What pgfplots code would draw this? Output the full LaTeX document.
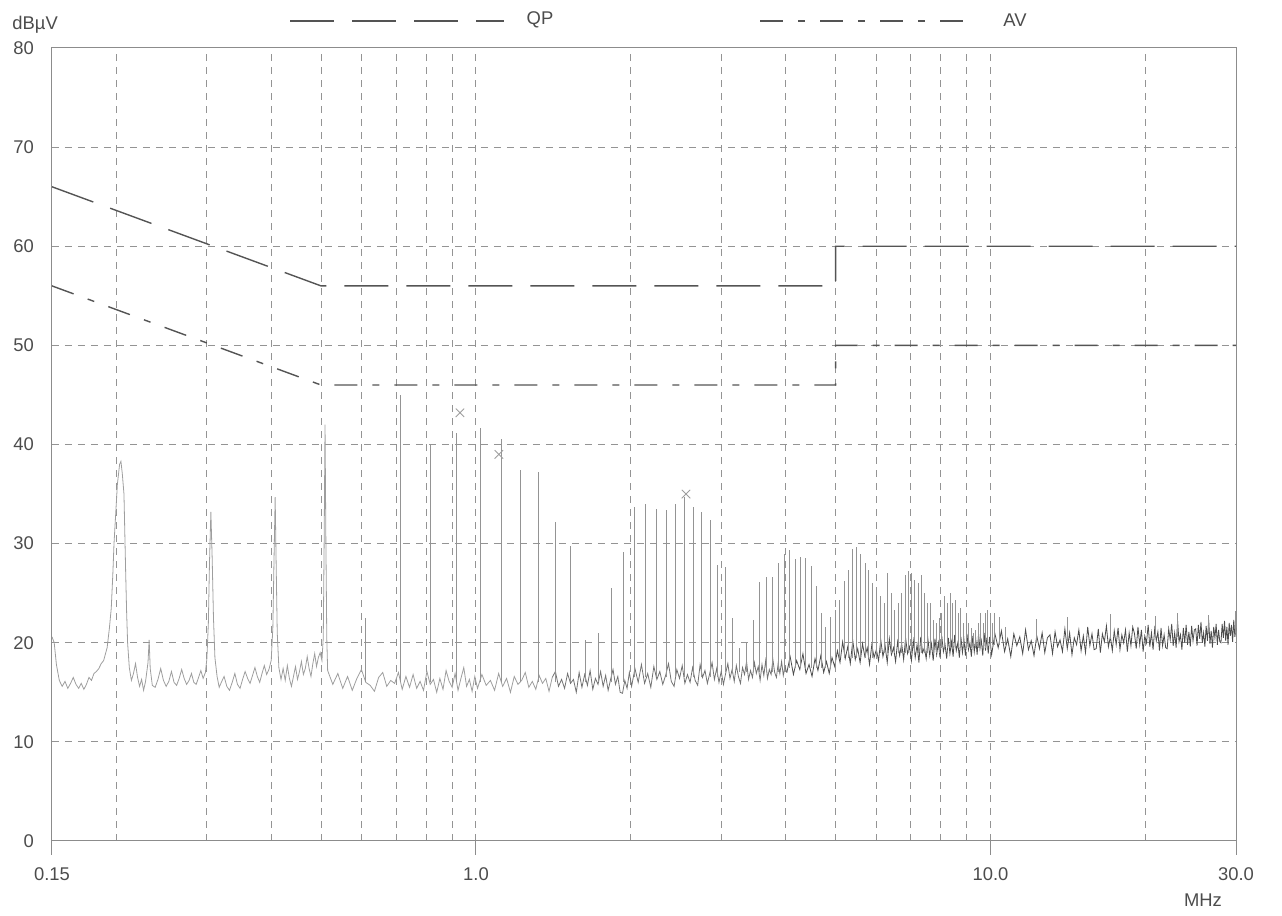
\documentclass[border=0pt]{standalone}
\usepackage{fontspec}
\setmainfont{Liberation Sans}
\usepackage{pgfplots}
\pgfplotsset{compat=1.18}

\definecolor{gridc}{gray}{0.58}
\definecolor{framec}{gray}{0.55}
\definecolor{limc}{gray}{0.33}
\definecolor{txtc}{gray}{0.3}
\definecolor{trlight}{gray}{0.62}
\definecolor{trmid}{gray}{0.45}
\definecolor{trdark}{gray}{0.3}
\definecolor{spk}{gray}{0.58}
\newcommand\lab{\fontsize{9.2}{11}\selectfont}

\begin{document}
\begin{tikzpicture}
\useasboundingbox (-26pt,-37.5pt) rectangle (615pt,420.5pt);
\begin{axis}[
    scale only axis,
    width=592pt, height=396.5pt,
    xmode=log,
    xmin=0.15, xmax=30, ymin=0, ymax=80,
    xtick={0.15,1,10,30},
    xticklabels={0.15,1.0,10.0,30.0},
    minor xtick={0.2,0.3,0.4,0.5,0.6,0.7,0.8,0.9,2,3,4,5,6,7,8,9,20},
    ytick={0,10,20,30,40,50,60,70,80},
    yticklabels={0,10,20,30,40,50,60,70,80},
    grid=both,
    major grid style={gridc, line width=0.5pt, dash pattern=on 3.5pt off 3pt},
    minor grid style={gridc, line width=0.5pt, dash pattern=on 3.5pt off 3pt},
    axis line style={framec, line width=0.5pt},
    tick align=outside,
    xtick pos=bottom, ytick pos=left,
    major tick length=7pt, minor tick length=0pt,
    xtick style={framec, line width=0.5pt},
    ytick style={draw=none},
    ticklabel style={font=\lab, text=txtc},
    xticklabel style={yshift=-2.7pt},
    yticklabel style={xshift=1.5pt},
    unbounded coords=jump,
]
% limit lines
\addplot[limc, line width=0.7pt, dash pattern=on 22pt off 9pt]
  coordinates {(0.15,66)(0.5,56)(5,56)(5,60)(30,60)};
\addplot[limc, line width=0.7pt, dash pattern=on 11.5pt off 7.5pt on 3.5pt off 7.5pt]
  coordinates {(0.15,56)(0.5,46)(5,46)(5,50)(30,50)};

% trace, low frequencies
\addplot[trlight, line width=0.4pt] coordinates {
(0.150,20.6)(0.1515,20.0)(0.153,17.8)(0.155,16.2)(0.157,15.6)(0.159,16.1)(0.161,15.4)(0.163,15.9)
(0.165,16.5)(0.167,15.8)(0.169,15.4)(0.171,15.9)(0.173,15.3)(0.175,15.8)(0.177,16.5)(0.179,16.2)
(0.181,16.9)(0.183,17.1)(0.185,17.4)(0.187,17.9)(0.189,18.2)(0.192,19.5)(0.194,21.5)(0.1956,23.5)
(0.197,27.0)(0.198,30.0)(0.200,34.0)(0.201,36.0)(0.203,38.0)(0.2042,38.3)(0.2055,37.0)(0.207,35.0)
(0.2078,31.0)(0.2086,27.0)(0.2095,23.0)(0.2104,20.0)(0.212,17.5)(0.214,16.2)(0.216,16.9)(0.218,17.9)
(0.220,16.5)(0.222,15.6)(0.224,16.3)(0.226,15.2)(0.228,16.1)(0.2305,18.0)(0.2317,20.3)(0.2328,17.4)
(0.235,15.7)(0.238,15.5)(0.241,16.3)(0.244,17.4)(0.247,16.2)(0.250,15.6)(0.253,16.1)(0.256,17.1)
(0.259,16.0)(0.262,15.7)(0.265,16.4)(0.268,17.3)(0.271,16.4)(0.274,15.8)(0.277,16.2)(0.280,16.9)
(0.283,16.0)(0.286,15.8)(0.289,16.5)(0.292,17.2)(0.295,16.4)(0.298,17.0)(0.300,18.4)(0.302,22.0)
(0.3035,28.0)(0.3054,33.2)(0.3072,28.5)(0.309,22.5)(0.311,18.5)(0.314,16.6)(0.317,15.5)(0.320,16.0)
(0.324,16.6)(0.328,15.6)(0.332,15.2)(0.336,16.0)(0.340,16.9)(0.344,15.8)(0.348,15.4)(0.352,16.3)
(0.356,17.1)(0.360,16.4)(0.364,15.9)(0.368,16.7)(0.372,17.5)(0.376,16.6)(0.380,16.0)(0.384,16.9)
(0.388,17.7)(0.392,16.8)(0.396,17.3)(0.400,18.2)(0.403,21.5)(0.405,28.0)(0.4072,34.7)(0.409,28.0)
(0.411,21.0)(0.414,17.5)(0.418,16.3)(0.422,17.4)(0.426,16.2)(0.430,17.7)(0.434,16.4)(0.438,15.6)
(0.442,16.6)(0.446,17.6)(0.450,16.3)(0.454,17.1)(0.458,18.1)(0.462,16.8)(0.466,17.4)(0.470,18.6)
(0.474,17.4)(0.478,16.6)(0.482,17.9)(0.486,18.9)(0.490,17.6)(0.494,18.5)(0.498,19.0)(0.502,18.2)
(0.505,20.5)(0.507,30.0)(0.509,42.0)(0.511,30.0)(0.513,20.5)(0.515,17.2)(0.527,15.8)(0.539,16.9)
(0.551,15.4)(0.563,16.6)(0.575,15.2)(0.587,16.4)(0.599,17.3)(0.611,16.0)(0.623,15.7)(0.635,15.1)
(0.647,16.5)(0.659,17.0)(0.671,15.6)(0.683,16.2)(0.695,15.9)(0.707,17.0)(0.719,15.3)(0.731,16.6)
(0.743,15.5)(0.755,16.8)(0.767,15.4)(0.779,16.1)(0.791,15.2)(0.803,17.1)(0.815,15.8)(0.827,16.3)
(0.839,15.0)(0.851,16.4)(0.863,15.3)(0.875,17.2)(0.887,16.1)(0.899,15.5)(0.911,16.9)(0.923,15.2)
(0.935,16.4)(0.947,17.5)(0.959,15.6)(0.971,16.3)(0.983,15.1)(0.995,16.6)(1.007,15.4)(1.027,16.8)
(1.047,15.7)(1.067,16.2)(1.087,15.2)(1.107,16.9)(1.127,15.6)(1.147,16.4)(1.167,15.0)(1.187,16.6)
(1.207,15.8)(1.227,16.2)(1.247,17.0)(1.267,15.5)(1.287,16.1)(1.307,15.3)(1.327,16.7)(1.347,15.9)
(1.367,16.4)(1.387,15.1)(1.407,16.5)
};
% trace, middle frequencies
\addplot[trmid, line width=0.4pt] coordinates {
(1.407,16.5)(1.427,17.1)(1.447,15.6)(1.467,16.3)(1.487,15.4)(1.507,16.9)(1.527,15.9)(1.547,16.3)
(1.567,15.0)(1.587,17.0)(1.607,15.5)(1.627,16.8)(1.647,15.7)(1.667,17.2)(1.687,15.3)(1.707,16.4)
(1.727,15.8)(1.747,17.1)(1.767,15.6)(1.787,16.7)(1.807,15.2)(1.827,16.3)(1.847,17.3)(1.867,15.8)
(1.887,16.6)(1.907,15.0)(1.927,14.9)(1.947,16.2)(1.967,15.4)(1.987,17.0)(2.007,15.6)(2.037,17.4)
(2.067,16.0)(2.097,17.8)(2.127,15.9)(2.157,16.9)(2.187,15.5)(2.217,17.6)(2.247,16.3)(2.277,17.1)
(2.307,15.8)(2.337,16.7)(2.367,17.9)(2.397,16.1)(2.427,15.6)(2.457,17.3)(2.487,16.4)(2.517,17.7)
(2.547,15.9)(2.577,16.8)(2.607,16.0)(2.637,17.5)(2.667,16.2)(2.697,15.7)(2.727,17.8)(2.757,16.5)
(2.787,17.2)(2.817,15.9)(2.847,16.9)(2.877,18.0)(2.907,16.3)(2.937,17.4)(2.967,16.0)(2.997,17.1)
(3.027,15.8)(3.057,16.9)(3.087,17.9)(3.117,16.4)(3.147,17.3)(3.177,16.1)(3.207,17.7)(3.237,16.6)
(3.267,15.9)(3.297,17.5)(3.327,16.8)(3.357,18.1)(3.387,16.3)(3.417,17.2)(3.447,16.5)(3.477,18.0)
(3.507,16.9)(3.537,17.6)(3.567,16.2)(3.597,17.8)(3.627,16.7)(3.657,18.2)(3.687,16.4)(3.717,17.3)
(3.747,16.8)(3.777,18.3)(3.807,17.0)(3.837,16.5)(3.867,17.9)(3.897,16.9)(3.927,18.1)(3.957,16.7)
(3.987,17.6)(4.02,17.0)
};
% trace, high frequencies
\addplot[trdark, line width=0.4pt] coordinates {
(4.02,17.0)(4.08,18.6)(4.14,16.8)(4.20,18.2)(4.26,17.3)(4.32,18.9)(4.38,16.9)(4.44,17.8)
(4.50,16.6)(4.56,18.4)(4.62,17.2)(4.68,18.7)(4.74,17.0)(4.80,18.1)(4.86,16.9)(4.92,18.5)
(4.98,17.6)(5.04,19.2)(5.10,18.0)(5.16,20.1)(5.22,18.4)(5.28,19.6)(5.34,17.9)(5.40,20.2)
(5.46,18.3)(5.52,19.4)(5.58,18.0)(5.64,19.9)(5.70,18.6)(5.76,19.5)(5.82,17.8)(5.88,19.8)
(5.94,18.5)(6.00,19.3)(6.06,18.2)(6.12,20.3)(6.18,18.6)(6.24,19.7)(6.30,18.0)(6.36,20.4)
(6.42,18.8)(6.48,19.5)(6.54,18.1)(6.60,20.1)(6.66,18.7)(6.72,19.9)(6.78,18.3)(6.84,20.5)
(6.90,18.9)(6.96,19.6)(7.02,18.2)(7.08,20.2)(7.14,18.5)(7.20,19.8)(7.26,18.0)(7.32,20.6)
(7.38,19.0)(7.44,19.5)(7.50,18.4)(7.56,20.3)(7.62,18.7)(7.68,19.9)(7.74,18.2)(7.80,20.4)
(7.86,18.8)(7.92,20.0)(7.98,18.5)(8.04,20.7)(8.10,19.1)(8.16,19.8)(8.22,18.4)(8.28,20.5)
(8.34,18.9)(8.40,20.1)(8.46,18.6)(8.52,20.8)(8.58,19.2)(8.64,20.0)(8.70,18.5)(8.76,20.6)
(8.82,19.0)(8.88,20.3)(8.94,18.7)(9.00,20.9)(9.06,19.3)(9.12,20.0)(9.18,18.6)(9.24,20.7)
(9.30,19.1)(9.36,20.4)(9.42,18.8)(9.48,20.9)(9.54,19.4)(9.60,20.2)(9.66,18.7)(9.72,21.0)
(9.78,19.2)(9.84,20.5)(9.90,18.9)(9.96,20.6)
(10.05,18.8)(10.20,20.9)(10.35,19.5)(10.50,21.2)(10.65,19.1)(10.80,20.4)(10.95,18.6)(11.10,20.9)
(11.25,19.7)(11.40,20.6)(11.55,18.9)(11.70,21.3)(11.85,19.3)(12.00,20.2)(12.15,18.7)(12.30,20.7)
(12.45,19.4)(12.60,21.0)(12.75,19.0)(12.90,20.5)
(13.05,20.8)(13.20,18.9)(13.35,21.1)(13.50,19.6)(13.65,20.3)(13.80,19.1)(13.95,21.4)(14.10,19.4)
(14.25,21.0)(14.40,18.8)(14.55,20.5)(14.70,19.8)(14.85,21.3)(15.00,19.2)(15.15,20.7)(15.30,19.0)
(15.45,21.6)(15.60,19.7)(15.75,20.9)(15.90,19.3)
(16.05,19.4)(16.20,21.4)(16.35,19.0)(16.50,20.9)(16.65,20.1)(16.80,21.7)(16.95,19.6)(17.10,20.6)
(17.25,19.2)(17.40,21.2)(17.55,19.8)(17.70,21.5)(17.85,19.3)(18.00,20.8)(18.15,20.0)(18.30,21.3)
(18.45,19.1)(18.60,21.0)(18.75,19.7)(18.90,21.6)
(19.05,20.9)(19.20,19.4)(19.35,21.6)(19.50,19.8)(19.65,21.3)(19.80,19.1)(19.95,20.7)(20.10,20.0)
(20.25,21.8)(20.40,19.6)(20.55,21.0)(20.70,19.3)(20.85,21.4)(21.00,20.2)(21.15,21.1)(21.30,19.2)
(21.45,21.5)(21.60,19.7)(21.75,20.8)(21.90,19.5)
(22.05,19.4)(22.20,21.4)(22.35,20.3)(22.50,21.9)(22.65,19.7)(22.80,21.0)(22.95,19.5)(23.10,22.2)
(23.25,20.1)(23.40,20.8)(23.55,19.3)(23.70,21.5)(23.85,20.0)(24.00,21.8)(24.15,19.8)(24.30,21.1)
(24.45,19.6)(24.60,21.7)(24.75,20.2)(24.90,21.3)
(25.05,21.4)(25.20,19.7)(25.35,21.8)(25.50,20.4)(25.65,22.1)(25.80,20.0)(25.95,21.0)(26.10,19.6)
(26.25,21.7)(26.40,20.2)(26.55,22.3)(26.70,19.9)(26.85,21.2)(27.00,19.5)(27.15,21.6)(27.30,20.5)
(27.45,21.9)(27.60,19.8)(27.75,21.3)(27.90,20.1)
(28.05,20.0)(28.20,21.9)(28.35,20.5)(28.50,22.2)(28.65,20.2)(28.80,21.6)(28.95,19.8)(29.10,22.0)
(29.25,20.7)(29.40,21.8)(29.55,20.1)(29.70,22.3)(29.85,20.6)(30.0,21.5)
};
% harmonic spikes: floor, peak, break
\addplot[spk, line width=0.4pt] coordinates {
(0.6108,16)(0.6108,22.5)(0.6108,nan) (0.7126,16)(0.7126,45.0)(0.7126,nan)
(0.8144,16)(0.8144,40.0)(0.8144,nan) (0.9162,16)(0.9162,41.2)(0.9162,nan)
(1.018,16)(1.018,41.7)(1.018,nan) (1.1198,16)(1.1198,40.6)(1.1198,nan)
(1.2216,16)(1.2216,37.4)(1.2216,nan) (1.3234,16)(1.3234,37.2)(1.3234,nan)
(1.4252,16)(1.4252,32.2)(1.4252,nan) (1.527,16)(1.527,29.8)(1.527,nan)
(1.6288,16)(1.6288,20.3)(1.6288,nan) (1.7306,16)(1.7306,21.0)(1.7306,nan)
(1.8324,16)(1.8324,25.5)(1.8324,nan) (1.9342,16)(1.9342,29.2)(1.9342,nan)
(2.036,16.5)(2.036,33.7)(2.036,nan) (2.1378,16.5)(2.1378,34.0)(2.1378,nan)
(2.2396,16.5)(2.2396,33.5)(2.2396,nan) (2.3414,16.5)(2.3414,33.4)(2.3414,nan)
(2.4432,16.5)(2.4432,34.0)(2.4432,nan) (2.545,16.5)(2.545,34.7)(2.545,nan)
(2.6468,16.5)(2.6468,33.7)(2.6468,nan) (2.7486,16.5)(2.7486,33.2)(2.7486,nan)
(2.8504,16.5)(2.8504,32.4)(2.8504,nan) (2.9522,16.5)(2.9522,27.8)(2.9522,nan)
(3.054,17)(3.054,27.6)(3.054,nan) (3.1558,17)(3.1558,22.5)(3.1558,nan)
(3.2576,17)(3.2576,19.5)(3.2576,nan) (3.3594,17)(3.3594,20.0)(3.3594,nan)
(3.4612,17)(3.4612,22.3)(3.4612,nan) (3.563,17)(3.563,26.1)(3.563,nan)
(3.6648,17)(3.6648,26.6)(3.6648,nan) (3.7666,17)(3.7666,26.6)(3.7666,nan)
(3.8684,17)(3.8684,28.0)(3.8684,nan) (3.9702,17)(3.9702,29.0)(3.9702,nan)
(4.072,17.5)(4.072,29.4)(4.072,nan) (4.1738,17.5)(4.1738,28.4)(4.1738,nan)
(4.2756,17.5)(4.2756,28.7)(4.2756,nan) (4.3774,17.5)(4.3774,28.5)(4.3774,nan)
(4.4792,17.5)(4.4792,27.7)(4.4792,nan) (4.581,17.5)(4.581,25.7)(4.581,nan)
(4.6828,17.5)(4.6828,23.0)(4.6828,nan) (4.7846,17.5)(4.7846,21.6)(4.7846,nan)
(4.8864,17.5)(4.8864,22.6)(4.8864,nan) (4.9882,17.5)(4.9882,23.3)(4.9882,nan)
(5.09,18.5)(5.09,24.3)(5.09,nan) (5.1918,18.5)(5.1918,26.2)(5.1918,nan)
(5.2936,18.5)(5.2936,27.3)(5.2936,nan) (5.3954,18.5)(5.3954,29.5)(5.3954,nan)
(5.4972,18.5)(5.4972,29.7)(5.4972,nan) (5.599,18.5)(5.599,29.0)(5.599,nan)
(5.7008,18.5)(5.7008,28.0)(5.7008,nan) (5.8026,18.5)(5.8026,27.3)(5.8026,nan)
(5.9044,18.5)(5.9044,26.0)(5.9044,nan) (6.0062,19)(6.0062,25.2)(6.0062,nan)
(6.108,19)(6.108,24.7)(6.108,nan) (6.2098,19)(6.2098,24.0)(6.2098,nan)
(6.3116,19)(6.3116,27.0)(6.3116,nan) (6.4134,19)(6.4134,25.0)(6.4134,nan)
(6.5152,19)(6.5152,23.3)(6.5152,nan) (6.617,19)(6.617,24.0)(6.617,nan)
(6.7188,19)(6.7188,25.0)(6.7188,nan) (6.8206,19)(6.8206,26.8)(6.8206,nan)
(6.9224,19)(6.9224,27.2)(6.9224,nan) (7.0242,19)(7.0242,27.0)(7.0242,nan)
(7.126,19)(7.126,26.3)(7.126,nan) (7.2278,19)(7.2278,26.0)(7.2278,nan)
(7.3296,19)(7.3296,26.8)(7.3296,nan) (7.4314,19)(7.4314,25.0)(7.4314,nan)
(7.5332,19)(7.5332,24.0)(7.5332,nan) (7.635,19)(7.635,24.0)(7.635,nan)
(7.7368,19)(7.7368,22.3)(7.7368,nan) (7.8386,19)(7.8386,22.0)(7.8386,nan)
(7.9404,19)(7.9404,22.5)(7.9404,nan) (8.0422,19.5)(8.0422,23.0)(8.0422,nan)
(8.144,19.5)(8.144,24.7)(8.144,nan) (8.2458,19.5)(8.2458,24.0)(8.2458,nan)
(8.3476,19.5)(8.3476,25.0)(8.3476,nan) (8.4494,19.5)(8.4494,24.0)(8.4494,nan)
(8.5512,19.5)(8.5512,24.3)(8.5512,nan) (8.653,19.5)(8.653,23.0)(8.653,nan)
(8.7548,19.5)(8.7548,23.5)(8.7548,nan) (8.8566,19.5)(8.8566,22.0)(8.8566,nan)
(8.9584,19.5)(8.9584,22.3)(8.9584,nan) (9.0602,19.5)(9.0602,22.0)(9.0602,nan)
(9.162,19.5)(9.162,21.5)(9.162,nan) (9.2638,19.5)(9.2638,21.0)(9.2638,nan)
(9.3656,19.5)(9.3656,21.3)(9.3656,nan) (9.4674,19.5)(9.4674,22.0)(9.4674,nan)
(9.5692,19.5)(9.5692,23.0)(9.5692,nan) (9.671,19.5)(9.671,22.0)(9.671,nan)
(9.7728,19.5)(9.7728,23.0)(9.7728,nan) (9.8746,19.5)(9.8746,23.3)(9.8746,nan)
(9.9764,19.5)(9.9764,22.5)(9.9764,nan) (10.078,19.8)(10.078,22.0)(10.078,nan)
(10.18,19.8)(10.18,23.0)(10.18,nan) (10.384,19.8)(10.384,22.6)(10.384,nan)
(10.689,19.8)(10.689,21.6)(10.689,nan) (12.3,20.0)(12.3,22.4)(12.3,nan)
(14.1,20.2)(14.1,22.6)(14.1,nan) (17.1,20.4)(17.1,22.9)(17.1,nan)
(20.9,20.5)(20.9,22.7)(20.9,nan) (23.1,20.6)(23.1,23.0)(23.1,nan)
(26.5,20.9)(26.5,22.8)(26.5,nan) (29.9,21.0)(29.9,23.2)(29.9,nan)
};
% final measurement markers
\addplot[only marks, mark=x, mark size=3pt, trlight, line width=0.4pt]
  coordinates {(0.931,43.2)(1.108,39.0)(2.56,35.0)};
\end{axis}

% header and unit labels
\node[anchor=base west, font=\lab, text=txtc, inner sep=0pt] at (-20pt,405.7pt) {dBµV};
\draw[limc, line width=0.7pt, dash pattern=on 22pt off 9pt] (119pt,410pt) -- (226pt,410pt);
\node[font=\lab, text=txtc] at (244pt,410.5pt) {QP};
\draw[limc, line width=0.7pt, dash pattern=on 11.5pt off 7.5pt on 3.5pt off 7.5pt] (354pt,410pt) -- (461.5pt,410pt);
\node[font=\lab, text=txtc] at (481.5pt,410.5pt) {AV};
\node[font=\lab, text=txtc] at (575.5pt,-29.5pt) {MHz};
\end{tikzpicture}
\end{document}
